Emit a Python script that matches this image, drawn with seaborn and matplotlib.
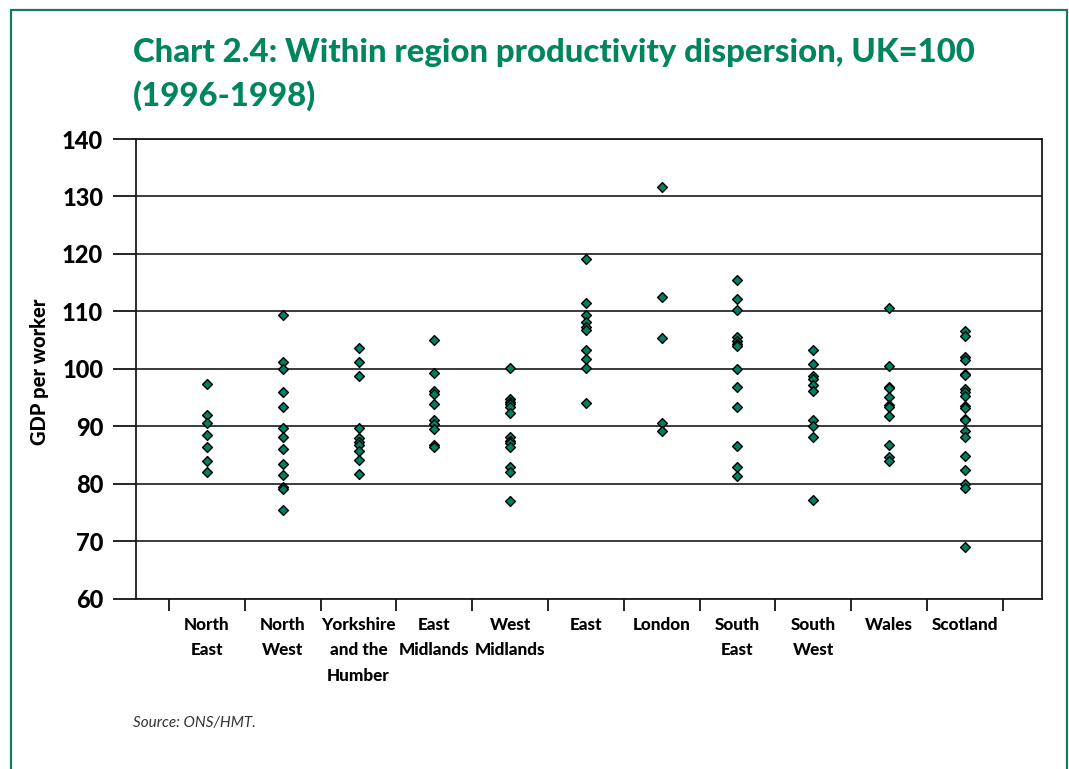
import matplotlib
matplotlib.use("Agg")
import matplotlib.pyplot as plt
import seaborn as sns
import pandas as pd
from matplotlib.patches import Rectangle

# Region names as drawn on the category axis
regions = [
    "North\nEast", "North\nWest", "Yorkshire\nand the\nHumber", "East\nMidlands",
    "West\nMidlands", "East", "London", "South\nEast", "South\nWest", "Wales", "Scotland",
]

# GDP per worker by sub-region (UK = 100), 1996-1998
north_east = [97.3, 91.9, 90.5, 88.5, 86.3, 83.9, 82.0]
north_west = [109.4, 101.2, 100.0, 96.0, 93.3, 89.7, 88.1, 86.0, 83.4, 81.5, 79.4, 79.0, 75.4]
yorkshire = [103.7, 101.2, 98.7, 89.7, 87.9, 87.3, 86.7, 85.7, 84.2, 81.7]
east_midlands = [105.0, 99.2, 96.2, 95.6, 93.9, 91.1, 90.3, 89.5, 86.7, 86.4]
west_midlands = [100.1, 94.8, 94.3, 93.8, 93.4, 92.3, 88.2, 87.5, 87.1, 86.4, 82.9, 82.0, 76.9]
east = [119.1, 111.4, 109.3, 108.1, 107.2, 106.8, 103.3, 101.7, 100.1, 94.1]
london = [131.6, 112.5, 105.3, 90.6, 89.2]
south_east = [115.5, 112.1, 110.3, 105.6, 104.9, 104.3, 103.9, 100.0, 96.9, 93.4, 86.5, 82.9, 81.4]
south_west = [103.3, 100.9, 98.8, 98.2, 97.2, 96.2, 91.0, 90.0, 88.1, 77.2]
wales = [110.5, 100.5, 96.9, 96.6, 95.1, 93.7, 93.3, 91.7, 86.7, 84.7, 84.0]
scotland = [106.5, 105.7, 102.0, 101.6, 99.1, 98.9, 96.5, 96.0, 95.3, 93.6, 93.2,
            91.3, 91.0, 89.2, 88.1, 84.9, 82.4, 80.0, 79.3, 69.0]

y_ticks = [60, 70, 80, 90, 100, 110, 120, 130, 140]

series = [north_east, north_west, yorkshire, east_midlands, west_midlands, east,
          london, south_east, south_west, wales, scotland]
df = pd.DataFrame({
    "region": [r for r, vals in zip(regions, series) for _ in vals],
    "gdp": [v for vals in series for v in vals],
})

GREEN = "#00855f"
FRAME = "#157a60"

sns.set_theme(style="white")
plt.rcParams["font.family"] = ["Lato", "DejaVu Sans"]

fig = plt.figure(figsize=(10.69, 7.69), dpi=100)
ax = fig.add_axes([0.127, 0.2217, 0.8478, 0.5975])

sns.stripplot(
    data=df, x="region", y="gdp", order=regions, jitter=False,
    marker="D", size=5.0, color="#007f62", edgecolor="black", linewidth=1.0,
    ax=ax, zorder=3,
)

# Axis ranges and gridlines
ax.set_ylim(60, 140)
ax.set_yticks(y_ticks)
ax.set_yticklabels([str(t) for t in y_ticks], fontsize=17, fontweight="black", color="black")
ax.yaxis.grid(True, color="#1a1a1a", linewidth=1.2)
ax.xaxis.grid(False)
ax.set_axisbelow(True)

ax.set_xlim(-0.94, 11.02)
ax.set_xticks(range(len(regions)))
ax.set_xticklabels(regions, fontsize=12.3, fontweight="black", color="black",
                   linespacing=1.75, va="top")
ax.set_xticks([i - 0.5 for i in range(len(regions) + 1)], minor=True)
ax.tick_params(axis="x", which="major", length=0, pad=13)
ax.tick_params(axis="x", which="minor", length=8.6, width=1.2, color="black",
               direction="out", bottom=True)
ax.tick_params(axis="y", length=16.5, width=1.2, color="black", direction="out",
               pad=7, left=True)

for side in ["left", "right", "top", "bottom"]:
    ax.spines[side].set_visible(True)
    ax.spines[side].set_color("#1a1a1a")
    ax.spines[side].set_linewidth(1.3)

ax.set_xlabel("")
ax.set_ylabel("")
fig.text(40 / 1069, 1 - 372 / 769, "GDP per worker", rotation=90, ha="center",
         va="center", fontsize=14.5, fontweight="black", color="black")

# Title
fig.text(133 / 1069, 1 - 62 / 769,
         "Chart 2.4: Within region productivity dispersion, UK=100",
         fontsize=23.7, fontweight="black", color=GREEN, va="baseline", ha="left")
fig.text(133 / 1069, 1 - 106 / 769, "(1996-1998)",
         fontsize=23.7, fontweight="black", color=GREEN, va="baseline", ha="left")

# Source note
fig.text(133 / 1069, 1 - 727 / 769, "Source: ONS/HMT.", fontsize=11,
         style="italic", color="#333333", va="baseline", ha="left")

# Outer panel frame (open at the bottom)
fig.add_artist(Rectangle((11 / 1069, -0.1), (1067 - 11) / 1069, 1.1 - 10 / 769,
                         transform=fig.transFigure, fill=False, edgecolor=FRAME,
                         linewidth=1.6, clip_on=False))

fig.savefig("out.png", dpi=100)
